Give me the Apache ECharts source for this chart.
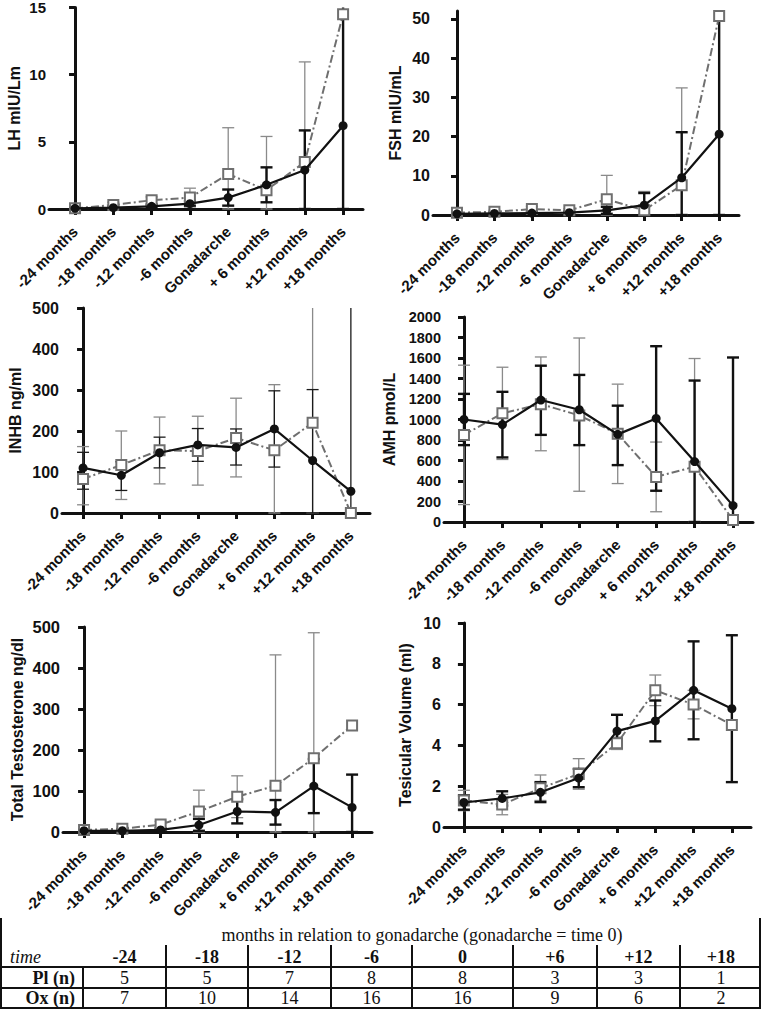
<!DOCTYPE html>
<html>
<head>
<meta charset="utf-8">
<script src="https://cdn.jsdelivr.net/npm/echarts@6/dist/echarts.min.js"></script>
<style>
  html, body { margin: 0; padding: 0; background: #fff; }
  #wrap { position: relative; width: 762px; height: 1009px; overflow: hidden; }
  #chart { position: absolute; left: 0; top: 0; width: 762px; height: 925px; }
  .tl { position: absolute; background: #111; }
  .tt { position: absolute; font-family: "Liberation Serif", "Times New Roman", serif; color: #111; white-space: nowrap; line-height: 1; }
</style>
</head>
<body>
<div id="wrap">
  <div id="chart"></div>
</div>
<script>
// categories on the x axis
const categories = ['-24 months', '-18 months', '-12 months', '-6 months', 'Gonadarche', '+ 6 months', '+12 months', '+18 months'];

// LH mIU/Lm  (ox = black circles, pl = grey squares)
const lhOx = [0.05, 0.1, 0.2, 0.4, 0.85, 1.8, 2.9, 6.2];
const lhPl = [0.05, 0.3, 0.65, 0.85, 2.6, 1.4, 3.5, 14.5];
const lhOxErr = [[0, 0.1], [0, 0.2], [0.1, 0.3], [0.25, 0.6], [0.25, 1.45], [0.5, 3.1], [0, 5.85], [0, 20]];
const lhPlErr = [[0, 0.1], [0.1, 0.5], [0.4, 0.9], [0.15, 1.55], [0, 6.05], [0, 5.4], [0, 10.95], null];

// FSH mIU/mL
const fshOx = [0.3, 0.4, 0.5, 0.6, 1.2, 2.5, 9.5, 20.6];
const fshPl = [0.6, 0.8, 1.5, 1.2, 4.0, 1.2, 7.6, 50.7];
const fshOxErr = [[0.1, 0.5], [0.1, 0.7], [0.2, 0.8], [0.3, 0.9], [0.3, 2.1], [0, 5.6], [0, 21.1], [0, 60]];
const fshPlErr = [[0.3, 0.9], [0.4, 1.2], [0.8, 2.2], [0.8, 1.6], [0, 10.1], [0, 6.0], [0, 32.4], null];

// INHB ng/ml
const inhbOx = [110, 92, 147, 166, 160, 205, 128, 53];
const inhbPl = [83, 117, 153, 151, 183, 153, 220, 0];
const inhbOxErr = [[58, 148], [55, 125], [110, 185], [126, 206], [117, 205], [112, 298], [0, 301], [0, 600]];
const inhbPlErr = [[20, 162], [33, 200], [71, 234], [68, 236], [88, 280], [0, 313], [0, 600], null];

// AMH pmol/L
const amhOx = [1000, 950, 1190, 1095, 855, 1010, 590, 160];
const amhPl = [850, 1060, 1150, 1040, 860, 440, 540, 20];
const amhOxErr = [[750, 1250], [630, 1270], [850, 1525], [750, 1435], [555, 1135], [305, 1715], [0, 1380], [0, 1605]];
const amhPlErr = [[170, 1530], [610, 1510], [695, 1610], [300, 1795], [375, 1345], [100, 780], [0, 1595], null];

// Total Testosterone ng/dl
const ttOx = [3, 3, 5, 17, 50, 48, 112, 60];
const ttPl = [5, 8, 18, 50, 86, 113, 180, 260];
const ttOxErr = [[1, 5], [1, 5], [2, 9], [3, 32], [21, 80], [18, 78], [46, 178], [0, 140]];
const ttPlErr = [[2, 8], [4, 12], [10, 26], [0, 102], [35, 137], [0, 432], [0, 486], null];

// Tesicular Volume (ml)
const tvOx = [1.2, 1.4, 1.7, 2.4, 4.7, 5.2, 6.7, 5.8];
const tvPl = [1.3, 1.1, 1.9, 2.6, 4.1, 6.7, 6.0, 5.0];
const tvOxErr = [[0.85, 1.55], [1.05, 1.75], [1.22, 2.2], [1.95, 2.85], [3.9, 5.5], [4.2, 6.2], [4.3, 9.1], [2.2, 9.4]];
const tvPlErr = [[0.8, 1.8], [0.6, 1.6], [1.3, 2.55], [1.85, 3.35], [3.8, 4.4], [5.95, 7.45], [5.3, 6.7], null];

// table under the charts
const timeLabels = ['-24', '-18', '-12', '-6', '0', '+6', '+12', '+18'];
const plCounts = [5, 5, 7, 8, 8, 3, 3, 1];
const oxCounts = [7, 10, 14, 16, 16, 9, 6, 2];

const FONT = 'Liberation Sans';
const idx = categories.map((c, i) => i);

const panels = [
  { name: 'LH mIU/Lm', ox: lhOx, pl: lhPl, oxErr: lhOxErr, plErr: lhPlErr, max: 15, interval: 5, ySize: 15,
    grid: { left: 49, top: 6, width: 314, height: 203 }, xmin: -0.68, xmax: 7.52, gap: 27 },
  { name: 'FSH mIU/mL', ox: fshOx, pl: fshPl, oxErr: fshOxErr, plErr: fshPlErr, max: 52, ticks: [0, 10, 20, 30, 40, 50], ySize: 16,
    grid: { left: 433, top: 11, width: 306, height: 204 }, xmin: -0.64, xmax: 7.53, gap: 30 },
  { name: 'INHB ng/ml', ox: inhbOx, pl: inhbPl, oxErr: inhbOxErr, plErr: inhbPlErr, max: 500, interval: 100, ySize: 16,
    grid: { left: 62, top: 308, width: 308, height: 205 }, xmin: -0.55, xmax: 7.5, gap: 39, thinOx: true },
  { name: 'AMH pmol/L', ox: amhOx, pl: amhPl, oxErr: amhOxErr, plErr: amhPlErr, max: 2000, interval: 200, ySize: 14.5,
    grid: { left: 444, top: 317, width: 309, height: 205 }, xmin: -0.52, xmax: 7.52, gap: 47 },
  { name: 'Total Testosterone ng/dl', ox: ttOx, pl: ttPl, oxErr: ttOxErr, plErr: ttPlErr, max: 500, interval: 100, ySize: 16.5,
    grid: { left: 63, top: 627, width: 309, height: 205 }, xmin: -0.55, xmax: 7.52, gap: 38 },
  { name: 'Tesicular Volume (ml)', ox: tvOx, pl: tvPl, oxErr: tvOxErr, plErr: tvPlErr, max: 10, interval: 2, ySize: 16,
    grid: { left: 444, top: 623, width: 307, height: 204 }, xmin: -0.52, xmax: 7.5, gap: 31 }
];

// error bar drawer, clipped by hand to the grid
function errBars(color, width, half) {
  return function (params, api) {
    const cs = params.coordSys;
    const lo = api.coord([api.value(0), api.value(1)]);
    const hi = api.coord([api.value(0), api.value(2)]);
    const top = cs.y, bot = cs.y + cs.height;
    const x = lo[0];
    const style = { stroke: color, lineWidth: width };
    const kids = [{ type: 'line', shape: { x1: x, y1: Math.min(lo[1], bot), x2: x, y2: Math.max(hi[1], top) }, style: style }];
    if (hi[1] >= top) kids.push({ type: 'line', shape: { x1: x - half, y1: hi[1], x2: x + half, y2: hi[1] }, style: style });
    kids.push({ type: 'line', shape: { x1: x - half, y1: lo[1], x2: x + half, y2: lo[1] }, style: style });
    return { type: 'group', children: kids };
  };
}

function errData(arr) {
  const out = [];
  arr.forEach((e, i) => { if (e) out.push([i, e[0], e[1]]); });
  return out;
}

const grid = [], xAxis = [], yAxis = [], series = [];

panels.forEach((p, k) => {
  grid.push(Object.assign({ containLabel: false }, p.grid));
  xAxis.push({
    type: 'value', gridIndex: k, min: p.xmin, max: p.xmax,
    splitLine: { show: false },
    axisLine: { show: true, onZero: false, lineStyle: { color: '#111', width: 3 } },
    axisTick: { show: true, customValues: idx, length: 6, lineStyle: { color: '#111', width: 3 } },
    axisLabel: {
      customValues: idx, rotate: 45, margin: 20,
      formatter: v => categories[Math.round(v)],
      fontFamily: FONT, fontWeight: 'bold', fontSize: 15, color: '#111'
    }
  });
  const y = {
    type: 'value', gridIndex: k, min: 0, max: p.max,
    name: p.name, nameLocation: 'middle', nameGap: p.gap,
    nameTextStyle: { fontFamily: FONT, fontWeight: 'bold', fontSize: 16, color: '#111' },
    splitLine: { show: false },
    axisLine: { show: true, lineStyle: { color: '#111', width: 3 } },
    axisTick: { show: true, length: 6, lineStyle: { color: '#111', width: 3 } },
    axisLabel: { margin: 3, formatter: v => String(v), fontFamily: FONT, fontWeight: 'bold', fontSize: p.ySize, color: '#111' }
  };
  if (p.interval) y.interval = p.interval;
  if (p.ticks) {
    y.axisTick.customValues = p.ticks;
    y.axisLabel.customValues = p.ticks;
  }
  yAxis.push(y);

  series.push({
    type: 'custom', xAxisIndex: k, yAxisIndex: k,
    renderItem: errBars('#8a8a8a', 1.3, 6),
    data: errData(p.plErr), z: 2, silent: true
  });
  series.push({
    type: 'custom', xAxisIndex: k, yAxisIndex: k,
    renderItem: p.thinOx ? errBars('#1a1a1a', 1.3, 6) : errBars('#111', 2.4, 6),
    data: errData(p.oxErr), z: 3, silent: true
  });
  series.push({
    type: 'line', xAxisIndex: k, yAxisIndex: k,
    data: p.pl.map((v, i) => [i, v]),
    symbol: 'rect', symbolSize: 10, z: 4,
    lineStyle: { color: '#6f6f6f', width: 2, type: [8, 3, 2, 3] },
    itemStyle: { color: '#fff', borderColor: '#6f6f6f', borderWidth: 2 },
    animation: false
  });
  series.push({
    type: 'line', xAxisIndex: k, yAxisIndex: k,
    data: p.ox.map((v, i) => [i, v]),
    symbol: 'circle', symbolSize: 9, z: 5,
    lineStyle: { color: '#111', width: 2.2 },
    itemStyle: { color: '#111' },
    animation: false
  });
});

const chart = echarts.init(document.getElementById('chart'), null, { renderer: 'svg' });
chart.setOption({ animation: false, grid: grid, xAxis: xAxis, yAxis: yAxis, series: series });

// ----- table -----
const wrap = document.getElementById('wrap');
const colX = [0, 82, 165, 247, 330, 411, 512, 596, 679, 761];

function line(x, y, w, h) {
  const d = document.createElement('div');
  d.className = 'tl';
  d.style.left = x + 'px'; d.style.top = y + 'px';
  d.style.width = w + 'px'; d.style.height = h + 'px';
  wrap.appendChild(d);
}
function text(str, x, yMid, opts) {
  const d = document.createElement('div');
  d.className = 'tt';
  d.textContent = str;
  d.style.fontSize = (opts.size || 18) + 'px';
  if (opts.bold) d.style.fontWeight = 'bold';
  if (opts.italic) d.style.fontStyle = 'italic';
  d.style.top = (yMid - (opts.size || 18) / 2) + 'px';
  if (opts.align === 'center') { d.style.left = (x - 400) + 'px'; d.style.width = '800px'; d.style.textAlign = 'center'; }
  else if (opts.align === 'right') { d.style.left = (x - 200) + 'px'; d.style.width = '200px'; d.style.textAlign = 'right'; }
  else d.style.left = x + 'px';
  wrap.appendChild(d);
}

// borders
line(0, 918, 2, 91);
line(759, 918, 2, 91);
line(0, 966, 761, 2);
line(0, 987, 761, 2);
line(0, 1007, 761, 2);
for (let c = 1; c < colX.length - 1; c++) {
  line(colX[c], c === 1 ? 967 : 945, 2, c === 1 ? 41 : 63);
}

text('months in relation to gonadarche (gonadarche = time 0)', 422, 935, { size: 18, align: 'center' });
text('time', 10, 957, { size: 18, italic: true });
text('Pl (n)', 75, 978, { size: 18, bold: true, align: 'right' });
text('Ox (n)', 75, 998, { size: 18, bold: true, align: 'right' });
timeLabels.forEach((t, i) => {
  const cx = (colX[i + 1] + colX[i + 2]) / 2 + 1;
  text(t, cx, 957, { size: 18, bold: true, align: 'center' });
  text(String(plCounts[i]), cx, 978, { size: 18, align: 'center' });
  text(String(oxCounts[i]), cx, 998, { size: 18, align: 'center' });
});
</script>
</body>
</html>
